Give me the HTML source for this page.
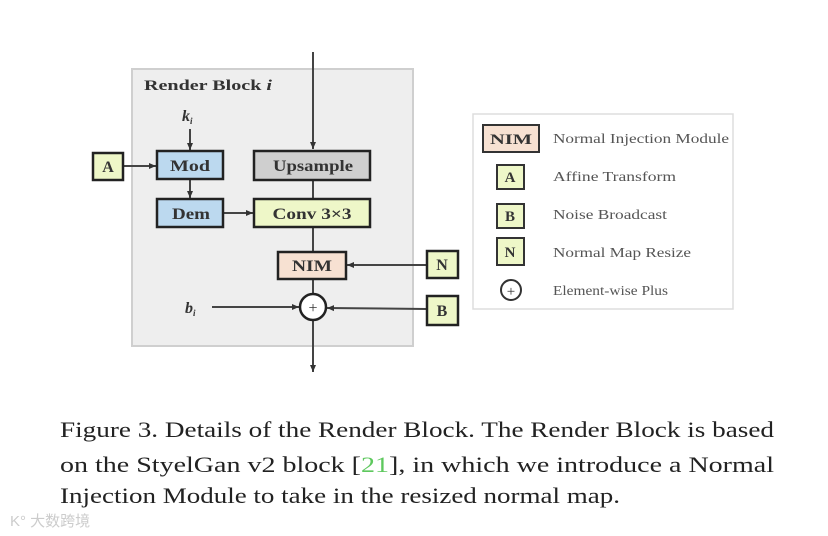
<!DOCTYPE html>
<html><head><meta charset="utf-8"><style>
html,body{margin:0;padding:0;background:#fff;}
svg{display:block;}
</style></head><body>
<svg width="828" height="536" viewBox="0 0 828 536" xmlns="http://www.w3.org/2000/svg" font-family="'Liberation Serif', serif">
<defs>
<marker id="ar" markerWidth="8" markerHeight="8" refX="7" refY="4" orient="auto" markerUnits="userSpaceOnUse">
<path d="M0,1 L7,4 L0,7 Z" fill="#333"/>
</marker>
</defs>
<rect x="132" y="69" width="281" height="277" fill="#eeeeee" stroke="#cfcfcf" stroke-width="2"/>
<text x="144" y="90" font-size="15" font-weight="bold" fill="#333" textLength="128" lengthAdjust="spacingAndGlyphs">Render Block <tspan font-style="italic">i</tspan></text>
<g stroke="#444" stroke-width="2" fill="none">
<line x1="313" y1="52" x2="313" y2="149" marker-end="url(#ar)"/>
<line x1="313" y1="180" x2="313" y2="199"/>
<line x1="313" y1="227" x2="313" y2="252"/>
<line x1="313" y1="279" x2="313" y2="294"/>
<line x1="313" y1="320" x2="313" y2="372" marker-end="url(#ar)"/>
<line x1="190" y1="129" x2="190" y2="150" marker-end="url(#ar)"/>
<line x1="123" y1="166" x2="156" y2="166" marker-end="url(#ar)"/>
<line x1="190" y1="179" x2="190" y2="198" marker-end="url(#ar)"/>
<line x1="223" y1="213" x2="253" y2="213" marker-end="url(#ar)"/>
<line x1="427" y1="265" x2="347" y2="265" marker-end="url(#ar)"/>
<line x1="212" y1="307" x2="299" y2="307" marker-end="url(#ar)"/>
<line x1="427" y1="309" x2="327" y2="308" marker-end="url(#ar)"/>
</g>
<text x="182" y="121" font-size="16" font-weight="bold" font-style="italic" fill="#333">k<tspan font-size="9" dy="3">i</tspan></text>
<text x="185" y="313" font-size="16" font-weight="bold" font-style="italic" fill="#333">b<tspan font-size="9" dy="3">i</tspan></text>
<g stroke="#222" stroke-width="2.5">
<rect x="93" y="153" width="30" height="27" fill="#eef7c8"/>
<rect x="157" y="151" width="66" height="28" fill="#bcd9ef"/>
<rect x="254" y="151" width="116" height="29" fill="#cfcfcf"/>
<rect x="157" y="199" width="66" height="28" fill="#bcd9ef"/>
<rect x="254" y="199" width="116" height="28" fill="#eef7c8"/>
<rect x="278" y="252" width="68" height="27" fill="#f7e1d2"/>
<rect x="427" y="251" width="31" height="27" fill="#eef7c8"/>
<rect x="427" y="296" width="31" height="29" fill="#eef7c8"/>
<circle cx="313" cy="307" r="13" fill="#fff"/>
</g>
<g font-size="16" font-weight="bold" fill="#333" text-anchor="middle">
<text x="108" y="172">A</text>
<text x="190" y="171" textLength="40" lengthAdjust="spacingAndGlyphs">Mod</text>
<text x="313" y="171" textLength="80" lengthAdjust="spacingAndGlyphs">Upsample</text>
<text x="191" y="219" textLength="38" lengthAdjust="spacingAndGlyphs">Dem</text>
<text x="312" y="219" textLength="79" lengthAdjust="spacingAndGlyphs">Conv 3×3</text>
<text x="312" y="271" textLength="40" lengthAdjust="spacingAndGlyphs">NIM</text>
<text x="442" y="270">N</text>
<text x="442" y="316">B</text>
<text x="313" y="313" font-weight="normal" font-size="16">+</text>
</g>
<rect x="473" y="114" width="260" height="195" fill="#fff" stroke="#ddd" stroke-width="1.5"/>
<g stroke="#333" stroke-width="2">
<rect x="483" y="125" width="56" height="27" fill="#f7e1d2"/>
<rect x="497" y="165" width="27" height="24" fill="#eef7c8"/>
<rect x="497" y="204" width="27" height="24" fill="#eef7c8"/>
<rect x="497" y="238" width="27" height="27" fill="#eef7c8"/>
<circle cx="511" cy="290" r="10" fill="#fff"/>
</g>
<g font-size="15" font-weight="bold" fill="#333" text-anchor="middle">
<text x="511" y="144" textLength="42" lengthAdjust="spacingAndGlyphs">NIM</text>
<text x="510" y="182">A</text>
<text x="510" y="221">B</text>
<text x="510" y="257">N</text>
<text x="511" y="296" font-weight="normal" font-size="15">+</text>
</g>
<g font-size="14" fill="#555" lengthAdjust="spacingAndGlyphs">
<text x="553" y="143" textLength="176" lengthAdjust="spacingAndGlyphs">Normal Injection Module</text>
<text x="553" y="181" textLength="123" lengthAdjust="spacingAndGlyphs">Affine Transform</text>
<text x="553" y="219" textLength="114" lengthAdjust="spacingAndGlyphs">Noise Broadcast</text>
<text x="553" y="257" textLength="138" lengthAdjust="spacingAndGlyphs">Normal Map Resize</text>
<text x="553" y="295" textLength="115" lengthAdjust="spacingAndGlyphs">Element-wise Plus</text>
</g>
<g font-size="22" fill="#222">
<text x="60" y="437" textLength="714" lengthAdjust="spacingAndGlyphs">Figure 3. Details of the Render Block. The Render Block is based</text>
<text x="60" y="472" textLength="714" lengthAdjust="spacingAndGlyphs">on the StyelGan v2 block [<tspan fill="#5ec85e">21</tspan>], in which we introduce a Normal</text>
<text x="60" y="503" textLength="560" lengthAdjust="spacingAndGlyphs">Injection Module to take in the resized normal map.</text>
</g>
<text x="10" y="526" font-size="15" fill="#ccc" font-family="'Liberation Sans','Noto Sans CJK SC',sans-serif">K° 大数跨境</text>
</svg>
</body></html>
